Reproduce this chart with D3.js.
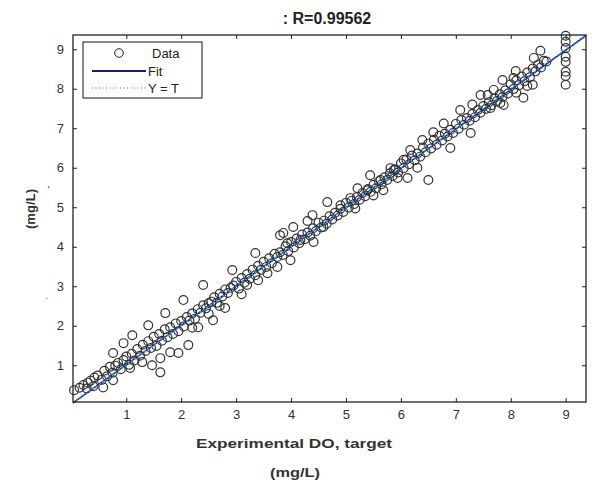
<!DOCTYPE html>
<html>
<head>
<meta charset="utf-8">
<script src="https://cdn.jsdelivr.net/npm/d3@7"></script>
<style>
  body { margin: 0; background: #fff; }
  svg { display: block; }
</style>
</head>
<body>
<div id="chart"></div>
<script>
// tick values
const xTicks = [1, 2, 3, 4, 5, 6, 7, 8, 9]
const yTicks = [1, 2, 3, 4, 5, 6, 7, 8, 9]

// fit line (output = slope * target + intercept)
const fitSlope = 0.995
const fitIntercept = 0.02
const rValue = "0.99562"

const legendLabels = ["Data", "Fit", "Y = T"]

// [target, output] pairs
const dataPoints = [
  [0.05,0.37],[0.15,0.43],[0.22,0.5],[0.28,0.41],[0.3,0.56],[0.35,0.61],[0.4,0.47],[0.42,0.69],
  [0.48,0.74],[0.55,0.63],[0.58,0.44],[0.6,0.86],[0.65,0.72],[0.7,0.96],[0.75,0.81],[0.76,0.62],
  [0.8,0.99],[0.85,1.06],[0.9,0.9],[0.95,1.13],
  [1.0,1.22],[1.05,1.01],[1.1,1.29],[1.15,1.12],[1.2,1.41],[1.25,1.24],[1.3,1.52],[1.35,1.36],
  [1.4,1.61],[1.45,1.44],[1.5,1.72],[1.55,1.49],[1.6,1.79],[1.65,1.62],[1.7,1.91],[1.75,1.71],
  [1.8,1.96],[1.85,1.79],[1.9,2.06],[1.95,1.86],[1.07,0.93],[1.29,1.08],[1.47,1.0],[1.62,0.82],
  [1.62,1.18],[1.8,1.33],[1.95,1.31],[2.13,1.51],[2.31,1.96],[0.76,1.31],[0.95,1.56],[1.11,1.76],
  [1.4,2.01],[1.71,2.32],[2.04,2.65],
  [2.0,2.12],[2.05,1.98],[2.1,2.22],[2.15,2.13],[2.2,2.31],[2.25,2.18],[2.3,2.42],[2.35,2.33],
  [2.4,2.52],[2.45,2.44],[2.5,2.57],[2.55,2.61],[2.6,2.72],[2.65,2.58],[2.7,2.81],[2.75,2.74],
  [2.8,2.92],[2.85,2.83],[2.9,2.96],[2.95,3.02],[2.4,3.03],[2.8,2.45],[2.58,2.14],[2.2,1.95],
  [2.5,2.3],[2.7,2.5],
  [3.0,3.11],[3.05,2.94],[3.1,3.21],[3.15,3.09],[3.2,3.31],[3.25,3.19],[3.3,3.42],[3.35,3.28],
  [3.4,3.52],[3.45,3.41],[3.5,3.62],[3.55,3.49],[3.6,3.71],[3.65,3.58],[3.7,3.82],[3.75,3.74],
  [3.8,3.86],[3.85,3.79],[3.9,4.01],[3.95,3.89],[2.93,3.41],[3.35,3.84],[3.8,4.29],[3.93,4.09],
  [3.2,3.03],[3.57,3.33],[3.75,3.49],[3.99,3.66],[3.1,2.8],[3.4,3.15],
  [4.0,4.12],[4.05,3.98],[4.1,4.21],[4.15,4.09],[4.2,4.31],[4.25,4.19],[4.3,4.36],[4.35,4.28],
  [4.4,4.47],[4.45,4.39],[4.5,4.61],[4.55,4.49],[4.6,4.66],[4.65,4.58],[4.7,4.77],[4.75,4.69],
  [4.8,4.86],[4.85,4.79],[4.9,4.96],[4.95,4.88],[3.86,4.35],[4.04,4.5],[4.39,4.8],[4.66,5.13],
  [4.9,5.05],[4.17,4.17],[4.41,4.12],[4.59,4.5],[4.3,4.65],
  [5.0,5.11],[5.05,4.99],[5.1,5.16],[5.15,5.08],[5.2,5.26],[5.25,5.19],[5.3,5.36],[5.35,5.28],
  [5.4,5.46],[5.45,5.39],[5.5,5.57],[5.55,5.48],[5.6,5.66],[5.65,5.58],[5.7,5.76],[5.75,5.69],
  [5.8,5.86],[5.85,5.79],[5.9,5.96],[5.95,5.88],[5.08,5.23],[5.21,5.48],[5.44,5.81],[5.63,5.69],
  [5.81,5.99],[5.17,4.97],[5.39,5.43],[5.68,5.43],[5.94,5.74],[5.5,5.3],
  [6.0,6.11],[6.05,5.99],[6.1,6.21],[6.15,6.09],[6.2,6.31],[6.25,6.19],[6.3,6.36],[6.35,6.28],
  [6.4,6.51],[6.45,6.39],[6.5,6.61],[6.55,6.49],[6.6,6.71],[6.65,6.58],[6.7,6.81],[6.75,6.69],
  [6.8,6.86],[6.85,6.79],[6.9,6.96],[6.95,6.88],[6.05,6.2],[6.17,6.45],[6.39,6.7],[6.59,6.9],
  [6.78,7.12],[6.9,6.5],[6.5,5.69],[6.12,5.74],[5.87,5.94],[6.3,6.0],
  [7.0,7.11],[7.05,6.99],[7.1,7.21],[7.15,7.09],[7.2,7.26],[7.25,7.19],[7.3,7.36],[7.35,7.28],
  [7.4,7.46],[7.45,7.39],[7.5,7.56],[7.55,7.49],[7.6,7.66],[7.65,7.58],[7.7,7.76],[7.75,7.69],
  [7.8,7.86],[7.85,7.79],[7.9,7.96],[7.95,7.88],[7.08,7.46],[7.45,7.84],[7.27,6.88],[7.63,7.51],
  [7.81,7.64],[7.58,7.84],[7.69,7.97],[7.85,8.22],[7.87,7.59],[7.3,7.6],
  [8.0,8.11],[8.05,7.99],[8.1,8.21],[8.15,8.09],[8.2,8.31],[8.25,8.19],[8.3,8.41],[8.35,8.29],
  [8.4,8.51],[8.45,8.44],[8.5,8.61],[8.55,8.54],[8.6,8.71],[8.65,8.69],[8.54,8.96],[8.42,8.78],
  [8.09,8.45],[8.05,8.27],[8.23,7.77],[8.3,8.07],[8.1,7.9],[8.4,8.1],
  [9.0,9.34],[9.0,9.19],[9.0,9.03],[9.0,8.81],[9.0,8.68],[9.0,8.43],[9.0,8.32],[9.0,8.1]
]

const W = 593, H = 482
const plot = {left: 73, right: 586, top: 35, bottom: 402}

const svg = d3.select("#chart").append("svg")
  .attr("width", W)
  .attr("height", H)
  .style("font-family", "Arial, 'Liberation Sans', sans-serif")

const x = d3.scaleLinear().domain([0.03, 9.37]).range([plot.left, plot.right])
const y = d3.scaleLinear().domain([0.07, 9.36]).range([plot.bottom, plot.top])

// axes with inward ticks (matlab style)
const styleAxis = g => {
  g.select(".domain").remove()
  g.selectAll(".tick line").attr("stroke", "#222")
  g.selectAll(".tick text").attr("fill", "#333").style("font-size", "13px")
}
svg.append("g").attr("transform", `translate(0,${plot.bottom})`)
  .call(d3.axisBottom(x).tickValues(xTicks).tickSizeInner(-4).tickSizeOuter(0).tickPadding(8))
  .call(styleAxis)
svg.append("g").attr("transform", `translate(${plot.left},0)`)
  .call(d3.axisLeft(y).tickValues(yTicks).tickSizeInner(-4).tickSizeOuter(0).tickPadding(9))
  .call(styleAxis)
svg.append("g").attr("transform", `translate(0,${plot.top})`)
  .call(d3.axisTop(x).tickValues(xTicks).tickSizeInner(-4).tickSizeOuter(0).tickFormat(""))
  .call(styleAxis)
svg.append("g").attr("transform", `translate(${plot.right},0)`)
  .call(d3.axisRight(y).tickValues(yTicks).tickSizeInner(-4).tickSizeOuter(0).tickFormat(""))
  .call(styleAxis)

// data circles
svg.append("g")
  .selectAll("circle")
  .data(dataPoints)
  .enter()
  .append("circle")
    .attr("cx", d => x(d[0]))
    .attr("cy", d => y(d[1]))
    .attr("r", 4.4)
    .attr("fill", "none")
    .attr("stroke", "#333")
    .attr("stroke-width", 1.2)

// fit line and Y = T line
const xd = x.domain()
svg.append("line")
  .attr("x1", x(xd[0])).attr("y1", y(fitSlope * xd[0] + fitIntercept))
  .attr("x2", x(xd[1])).attr("y2", y(fitSlope * xd[1] + fitIntercept))
  .attr("stroke", "#1c2a9a").attr("stroke-width", 1.5)
svg.append("line")
  .attr("x1", x(xd[0])).attr("y1", y(xd[0]))
  .attr("x2", x(xd[1])).attr("y2", y(xd[1]))
  .attr("stroke", "#3fb0d8").attr("stroke-width", 1.2)
  .attr("stroke-dasharray", "2,2")

// box
svg.append("rect")
  .attr("x", plot.left).attr("y", plot.top)
  .attr("width", plot.right - plot.left).attr("height", plot.bottom - plot.top)
  .attr("fill", "none").attr("stroke", "#111").attr("stroke-width", 1.2)

// legend
const lg = svg.append("g").attr("transform", "translate(83,42)")
lg.append("rect").attr("width", 119).attr("height", 56)
  .attr("fill", "#fff").attr("stroke", "#111").attr("stroke-width", 1)
lg.append("circle").attr("cx", 36).attr("cy", 11).attr("r", 4.3)
  .attr("fill", "none").attr("stroke", "#222")
lg.append("line").attr("x1", 9).attr("x2", 63).attr("y1", 29).attr("y2", 29)
  .attr("stroke", "#1a1a70").attr("stroke-width", 2)
lg.append("line").attr("x1", 9).attr("x2", 63).attr("y1", 46).attr("y2", 46)
  .attr("stroke", "#666").attr("stroke-width", 1).attr("stroke-dasharray", "1,2.5")
lg.selectAll("text.lab")
  .data(legendLabels)
  .enter()
  .append("text")
    .attr("class", "lab")
    .attr("x", (d, i) => i === 0 ? 69 : 65)
    .attr("y", (d, i) => 16 + i * 17.5)
    .style("font-size", "13px")
    .attr("fill", "#222")
    .text(d => d)

// title
svg.append("text")
  .attr("x", 327)
  .attr("y", 24)
  .attr("text-anchor", "middle")
  .style("font-size", "16px")
  .style("font-weight", "bold")
  .attr("fill", "#222")
  .text(": R=" + rValue)

// axis labels
svg.append("text")
  .attr("x", 294).attr("y", 448)
  .attr("text-anchor", "middle")
  .attr("textLength", 196).attr("lengthAdjust", "spacingAndGlyphs")
  .style("font-size", "13px").style("font-weight", "bold")
  .attr("fill", "#333")
  .text("Experimental DO, target")
svg.append("text")
  .attr("x", 295).attr("y", 477)
  .attr("text-anchor", "middle")
  .attr("textLength", 50).attr("lengthAdjust", "spacingAndGlyphs")
  .style("font-size", "13px").style("font-weight", "bold")
  .attr("fill", "#333")
  .text("(mg/L)")
svg.append("text")
  .attr("transform", "translate(35,209) rotate(-90)")
  .attr("text-anchor", "middle")
  .attr("textLength", 40).attr("lengthAdjust", "spacingAndGlyphs")
  .style("font-size", "12px").style("font-weight", "bold")
  .attr("fill", "#333")
  .text("(mg/L)")
// stray marks left of the y axis
svg.append("text")
  .attr("transform", "translate(51,187) rotate(-90)")
  .attr("text-anchor", "middle")
  .style("font-size", "10px").attr("fill", "#555")
  .text("-")
svg.append("text")
  .attr("x", 47).attr("y", 299)
  .attr("text-anchor", "middle")
  .style("font-size", "10px").attr("fill", "#555")
  .text(".")
</script>
</body>
</html>
